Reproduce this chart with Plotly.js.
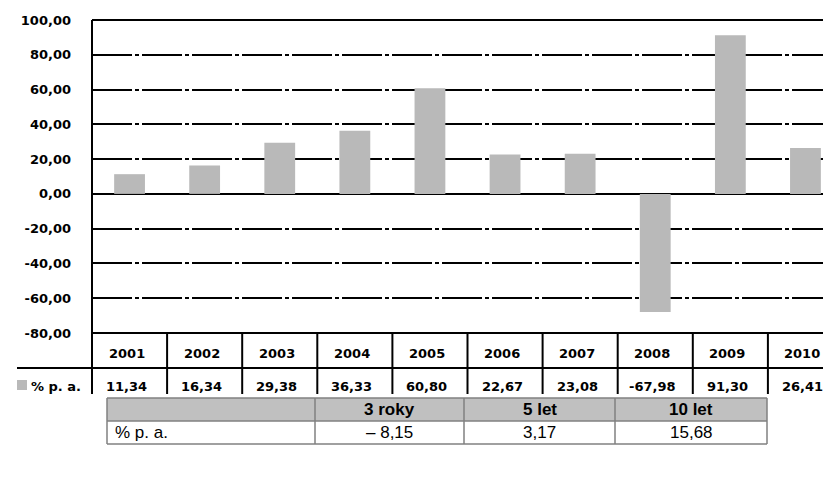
<!DOCTYPE html>
<html>
<head>
<meta charset="utf-8">
<script src="https://cdn.plot.ly/plotly-3.0.1.min.js"></script>
<style>
  html, body { margin: 0; padding: 0; overflow: hidden; background: #fff; }
  #chart { width: 850px; height: 477px; }
</style>
</head>
<body>
<div id="chart"></div>
<script>
// ---- data ----
const years = ['2001', '2002', '2003', '2004', '2005', '2006', '2007', '2008', '2009', '2010'];
const returns = [11.34, 16.34, 29.38, 36.33, 60.80, 22.67, 23.08, -67.98, 91.30, 26.41];
const seriesLabel = '% p. a.';
const yTickValues = [100, 80, 60, 40, 20, 0, -20, -40, -60, -80];
const summaryHeaders = ['', '3 roky', '5 let', '10 let'];
const summaryRowLabel = '% p. a.';
const summaryValues = ['– 8,15', '3,17', '15,68'];

// ---- helpers ----
const fmt = v => v.toFixed(2).replace('.', ',');
const L = 92, T = 20, W = 751, H = 313;
const xp = px => (px - L) / W;
const yp = py => (T + H - py) / H;

const black = '#000000';
const barGray = '#b9b9b9';
const cellFont = { family: 'DejaVu Sans, sans-serif', size: 13, color: black, weight: 'bold' };

const shapes = [];
const annotations = [];

// frame lines
shapes.push({ type: 'line', xref: 'paper', yref: 'paper', x0: 0, x1: 1, y0: 1, y1: 1, line: { color: black, width: 2 } });
shapes.push({ type: 'line', xref: 'paper', yref: 'paper', x0: 0, x1: 0, y0: 1, y1: yp(394), line: { color: black, width: 2 } });
shapes.push({ type: 'line', xref: 'paper', yref: 'paper', x0: 0, x1: 1, y0: 0, y1: 0, line: { color: black, width: 2 } });
shapes.push({ type: 'line', xref: 'paper', yref: 'paper', x0: xp(17), x1: 1, y0: yp(368), y1: yp(368), line: { color: black, width: 2 } });

// data table beneath plot: column separators, labels, values
years.forEach((yr, i) => {
  shapes.push({ type: 'line', xref: 'x', yref: 'paper', x0: i + 0.5, x1: i + 0.5, y0: 0, y1: yp(394), line: { color: black, width: 2 } });
  annotations.push({ xref: 'x', yref: 'paper', x: i, y: yp(353), xshift: -3, text: yr, showarrow: false, font: cellFont, xanchor: 'center', yanchor: 'middle' });
  annotations.push({ xref: 'x', yref: 'paper', x: i, y: yp(386), xshift: -3, text: fmt(returns[i]), showarrow: false, font: cellFont, xanchor: 'center', yanchor: 'middle' });
});

// legend key
shapes.push({ type: 'rect', xref: 'paper', yref: 'paper', x0: xp(17), x1: xp(27), y0: yp(390), y1: yp(380), fillcolor: barGray, line: { width: 0 } });
annotations.push({ xref: 'paper', yref: 'paper', x: xp(29), y: yp(386), text: seriesLabel, showarrow: false, font: cellFont, xanchor: 'left', yanchor: 'middle' });

// summary table
const colEdges = [107, 315, 464, 615, 767];
const rowEdges = [398, 421, 444];
const tGray = '#808080';
shapes.push({ type: 'rect', xref: 'paper', yref: 'paper', x0: xp(colEdges[0]), x1: xp(colEdges[4]), y0: yp(rowEdges[1]), y1: yp(rowEdges[0]), fillcolor: '#c0c0c0', line: { width: 0 }, layer: 'below' });
rowEdges.forEach(r => {
  shapes.push({ type: 'line', xref: 'paper', yref: 'paper', x0: xp(colEdges[0]), x1: xp(colEdges[4]), y0: yp(r), y1: yp(r), line: { color: tGray, width: 1.5 } });
});
colEdges.forEach(c => {
  shapes.push({ type: 'line', xref: 'paper', yref: 'paper', x0: xp(c), x1: xp(c), y0: yp(rowEdges[0]), y1: yp(rowEdges[2]), line: { color: tGray, width: 1.5 } });
});
const tFont = { family: 'Liberation Sans, Arial, sans-serif', size: 17, color: black };
summaryHeaders.forEach((h, j) => {
  if (!h) return;
  annotations.push({ xref: 'paper', yref: 'paper', x: xp((colEdges[j] + colEdges[j + 1]) / 2), y: yp((rowEdges[0] + rowEdges[1]) / 2),
    text: '<b>' + h + '</b>', showarrow: false, font: tFont, xanchor: 'center', yanchor: 'middle' });
});
annotations.push({ xref: 'paper', yref: 'paper', x: xp(colEdges[0] + 6), y: yp((rowEdges[1] + rowEdges[2]) / 2),
  text: summaryRowLabel, showarrow: false, font: tFont, xanchor: 'left', yanchor: 'middle' });
summaryValues.forEach((v, j) => {
  annotations.push({ xref: 'paper', yref: 'paper', x: xp((colEdges[j + 1] + colEdges[j + 2]) / 2), y: yp((rowEdges[1] + rowEdges[2]) / 2),
    text: v, showarrow: false, font: tFont, xanchor: 'center', yanchor: 'middle' });
});

const trace = {
  type: 'bar',
  x: years,
  y: returns,
  name: seriesLabel,
  marker: { color: barGray, line: { width: 0 } },
  hoverinfo: 'skip'
};

const layout = {
  width: 850,
  height: 477,
  margin: { l: L, r: 850 - L - W, t: T, b: 477 - T - H, pad: 0 },
  paper_bgcolor: '#ffffff',
  plot_bgcolor: '#ffffff',
  showlegend: false,
  bargap: 0.59,
  xaxis: {
    type: 'category',
    range: [-0.5, 9.5],
    showticklabels: false,
    showgrid: false,
    zeroline: false,
    showline: false,
    ticks: ''
  },
  yaxis: {
    range: [-80, 100],
    tickvals: yTickValues,
    ticktext: yTickValues.map(fmt),
    tickfont: { family: 'DejaVu Sans, sans-serif', size: 13, color: black, weight: 'bold' },
    ticklabelstandoff: 20,
    showgrid: true,
    gridcolor: black,
    gridwidth: 2,
    griddash: '40px,3px,4px,3px',
    zeroline: true,
    zerolinecolor: black,
    zerolinewidth: 2,
    showline: false,
    ticks: ''
  },
  shapes: shapes,
  annotations: annotations
};

Plotly.newPlot('chart', [trace], layout, { staticPlot: true, displayModeBar: false });
</script>
</body>
</html>
